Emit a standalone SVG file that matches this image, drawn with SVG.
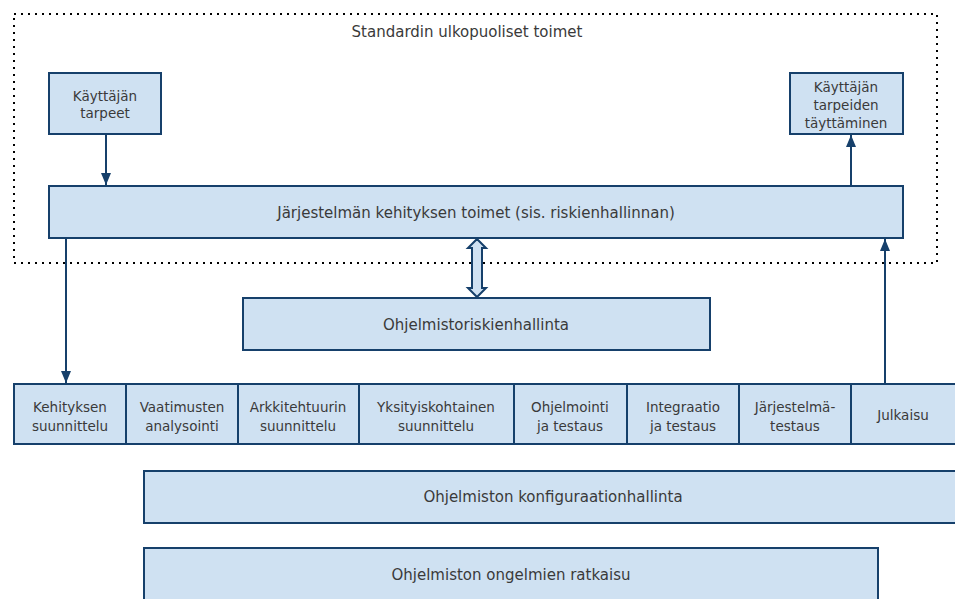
<svg xmlns="http://www.w3.org/2000/svg" width="955" height="599" viewBox="0 0 955 599">
  <defs>
    <style>
      .box { fill: #cfe1f2; stroke: #16406b; stroke-width: 2; }
      .lbl { font-family: "DejaVu Sans", Verdana, sans-serif; font-size: 15px; fill: #3a3a3a; text-anchor: middle; }
      .sm { font-size: 13.5px; }
      .line { stroke: #16406b; stroke-width: 2; fill: none; }
      .frame { fill: none; stroke: #000000; stroke-width: 2; stroke-dasharray: 2 5; }
    </style>
    <marker id="arrow" viewBox="0 0 12 10" refX="12" refY="5" markerWidth="12" markerHeight="10" orient="auto" markerUnits="userSpaceOnUse">
      <path d="M0,0 L12,5 L0,10 z" fill="#16406b"/>
    </marker>
  </defs>
  <rect width="955" height="599" fill="#ffffff"/>

  <!-- outer dotted boundary -->
  <g id="boundary">
    <rect class="frame" x="14" y="14" width="923" height="249"/>
    <text class="lbl" x="467" y="37">Standardin ulkopuoliset toimet</text>
  </g>

  <g id="needs">
    <rect class="box" x="49" y="73" width="112" height="61"/>
    <text class="lbl sm" x="105" y="101">Käyttäjän</text>
    <text class="lbl sm" x="105" y="118">tarpeet</text>
  </g>

  <g id="needs-met">
    <rect class="box" x="790" y="73" width="113" height="61"/>
    <text class="lbl sm" x="846" y="92">Käyttäjän</text>
    <text class="lbl sm" x="846" y="110">tarpeiden</text>
    <text class="lbl sm" x="846" y="128">täyttäminen</text>
  </g>

  <g id="dev-activities">
    <rect class="box" x="49" y="186" width="854" height="52"/>
    <text class="lbl" x="476" y="218">Järjestelmän kehityksen toimet (sis. riskienhallinnan)</text>
  </g>

  <g id="risk-mgmt">
    <rect class="box" x="243" y="298" width="467" height="52"/>
    <text class="lbl" x="476" y="330">Ohjelmistoriskienhallinta</text>
  </g>

  <!-- lifecycle phases -->
  <g id="phase-1">
    <rect class="box" x="14" y="384" width="112" height="60"/>
    <text class="lbl sm" x="70" y="412">Kehityksen</text>
    <text class="lbl sm" x="70" y="431">suunnittelu</text>
  </g>
  <g id="phase-2">
    <rect class="box" x="126" y="384" width="112" height="60"/>
    <text class="lbl sm" x="182" y="412">Vaatimusten</text>
    <text class="lbl sm" x="182" y="431">analysointi</text>
  </g>
  <g id="phase-3">
    <rect class="box" x="238" y="384" width="121" height="60"/>
    <text class="lbl sm" x="298" y="412">Arkkitehtuurin</text>
    <text class="lbl sm" x="298" y="431">suunnittelu</text>
  </g>
  <g id="phase-4">
    <rect class="box" x="359" y="384" width="155" height="60"/>
    <text class="lbl sm" x="436" y="412">Yksityiskohtainen</text>
    <text class="lbl sm" x="436" y="431">suunnittelu</text>
  </g>
  <g id="phase-5">
    <rect class="box" x="514" y="384" width="113" height="60"/>
    <text class="lbl sm" x="570" y="412">Ohjelmointi</text>
    <text class="lbl sm" x="570" y="431">ja testaus</text>
  </g>
  <g id="phase-6">
    <rect class="box" x="627" y="384" width="112" height="60"/>
    <text class="lbl sm" x="683" y="412">Integraatio</text>
    <text class="lbl sm" x="683" y="431">ja testaus</text>
  </g>
  <g id="phase-7">
    <rect class="box" x="739" y="384" width="112" height="60"/>
    <text class="lbl sm" x="795" y="412">Järjestelmä-</text>
    <text class="lbl sm" x="795" y="431">testaus</text>
  </g>
  <g id="phase-8">
    <rect class="box" x="851" y="384" width="110" height="60"/>
    <text class="lbl sm" x="903" y="420">Julkaisu</text>
  </g>

  <g id="config-mgmt">
    <rect class="box" x="144" y="471" width="820" height="52"/>
    <text class="lbl" x="553" y="502">Ohjelmiston konfiguraationhallinta</text>
  </g>

  <g id="problem-resolution">
    <rect class="box" x="144" y="548" width="734" height="60"/>
    <text class="lbl" x="511" y="580">Ohjelmiston ongelmien ratkaisu</text>
  </g>

  <!-- connectors -->
  <g id="connectors">
    <line class="line" x1="106" y1="134" x2="106" y2="185" marker-end="url(#arrow)"/>
    <line class="line" x1="851" y1="186" x2="851" y2="135" marker-end="url(#arrow)"/>
    <line class="line" x1="66" y1="238" x2="66" y2="383" marker-end="url(#arrow)"/>
    <line class="line" x1="885" y1="384" x2="885" y2="239" marker-end="url(#arrow)"/>
    <!-- two-way hollow arrow between development activities and risk management -->
    <path d="M477,239 L486,248 L482,248 L482,288 L486,288 L477,297 L468,288 L472,288 L472,248 L468,248 Z" fill="#cfe1f2" stroke="#16406b" stroke-width="2" stroke-linejoin="miter"/>
  </g>
</svg>
